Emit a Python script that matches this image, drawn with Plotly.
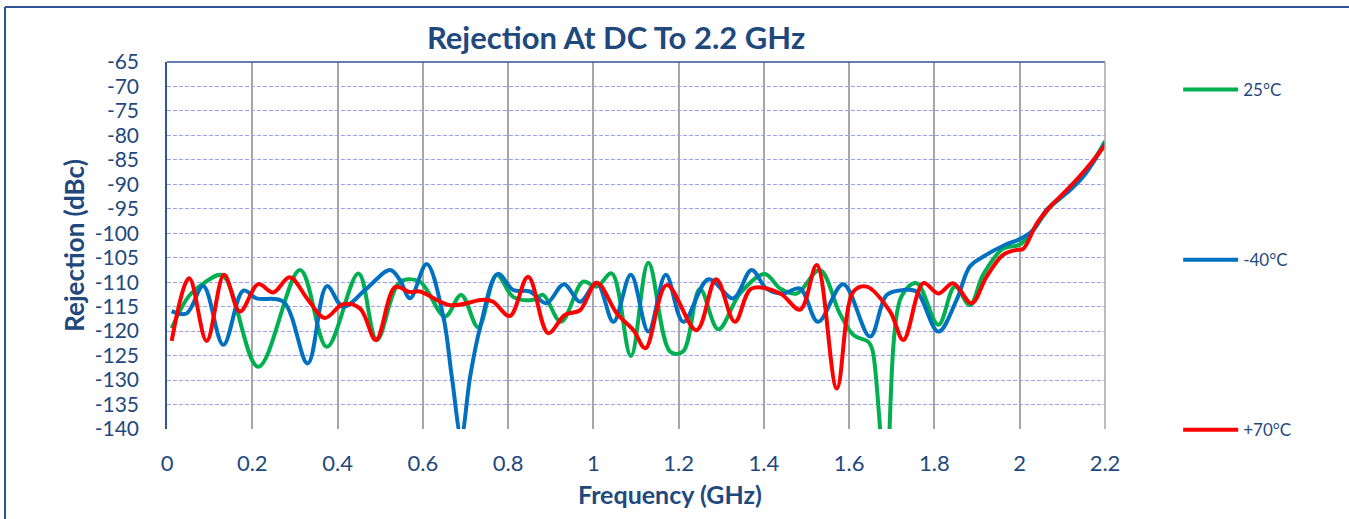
import plotly.graph_objects as go

# ---- data ----
freq_25 = [0.011, 0.05, 0.085, 0.13, 0.214, 0.312, 0.375, 0.449, 0.492, 0.546, 0.593, 0.652, 0.69, 0.73,
           0.773, 0.812, 0.859, 0.882, 0.924, 0.976, 1.008, 1.043, 1.088, 1.129, 1.18, 1.21, 1.25, 1.293,
           1.344, 1.402, 1.438, 1.477, 1.531, 1.578, 1.61, 1.645, 1.655, 1.686, 1.722, 1.758, 1.809, 1.848,
           1.883, 1.914, 1.96, 2.0, 2.03, 2.07, 2.11, 2.15, 2.2]
rej_25 = [-119.4, -113.0, -110.3, -108.6, -127.3, -107.5, -123.2, -108.2, -121.8, -110.0, -109.9, -117.0, -112.6, -119.2,
          -108.5, -113.0, -113.6, -112.6, -118.1, -109.9, -110.9, -108.2, -125.1, -106.0, -124.2, -124.2, -111.4, -119.6,
          -112.3, -108.3, -111.3, -112.3, -107.5, -116.4, -120.8, -122.2, -124.0, -150.0, -113.0, -110.2, -118.7, -110.9,
          -114.7, -108.5, -103.2, -102.3, -99.5, -94.8, -91.6, -88.2, -81.2]

freq_m40 = [0.011, 0.046, 0.085, 0.132, 0.179, 0.21, 0.273, 0.33, 0.375, 0.413, 0.468, 0.523, 0.546, 0.57,
            0.609, 0.648, 0.668, 0.69, 0.711, 0.734, 0.776, 0.812, 0.851, 0.89, 0.931, 0.969, 1.008, 1.047,
            1.088, 1.129, 1.17, 1.211, 1.27, 1.328, 1.371, 1.406, 1.445, 1.485, 1.527, 1.586, 1.649, 1.688,
            1.727, 1.758, 1.809, 1.852, 1.883, 1.914, 1.965, 2.0, 2.032, 2.063, 2.11, 2.149, 2.2]
rej_m40 = [-115.9, -116.4, -110.8, -122.8, -111.7, -113.3, -114.0, -126.6, -110.8, -115.0, -111.3, -107.5, -109.5, -113.3,
           -106.3, -117.0, -129.3, -141.5, -129.3, -119.4, -108.3, -111.6, -111.9, -114.3, -110.4, -114.0, -110.1, -118.1,
           -108.5, -120.1, -108.5, -118.1, -109.4, -113.3, -107.5, -111.3, -112.3, -111.3, -118.1, -110.4, -121.1, -112.6,
           -111.6, -111.9, -120.1, -113.6, -106.8, -104.8, -102.4, -101.2, -99.3, -95.2, -91.8, -88.4, -81.6]

freq_70 = [0.011, 0.052, 0.093, 0.134, 0.171, 0.214, 0.249, 0.288, 0.33, 0.37, 0.413, 0.453, 0.49, 0.535,
           0.57, 0.593, 0.664, 0.742, 0.765, 0.804, 0.847, 0.894, 0.933, 0.969, 1.008, 1.055, 1.094, 1.122,
           1.172, 1.242, 1.288, 1.332, 1.371, 1.438, 1.485, 1.524, 1.571, 1.61, 1.641, 1.696, 1.727, 1.774,
           1.809, 1.844, 1.887, 1.922, 1.961, 1.993, 2.008, 2.04, 2.071, 2.11, 2.157, 2.2]
rej_70 = [-122.0, -109.2, -122.0, -108.5, -116.0, -110.4, -112.1, -109.0, -113.5, -117.3, -114.5, -115.4, -121.8, -111.0,
          -112.0, -111.9, -114.7, -113.6, -114.0, -116.9, -108.9, -120.4, -116.7, -115.7, -110.1, -116.4, -119.8, -123.5,
          -110.6, -119.8, -109.4, -118.1, -111.3, -112.3, -115.6, -106.5, -131.7, -111.9, -110.9, -116.0, -121.8, -110.2,
          -112.3, -110.2, -114.3, -108.9, -104.4, -103.4, -103.2, -98.0, -94.6, -91.2, -86.7, -82.0]

series_names = ["25°C", "-40°C", "+70°C"]
series_colors = ["#00B050", "#0070C0", "#FF0000"]

y_ticks = list(range(-65, -141, -5))
y_tick_labels = [str(v) for v in y_ticks]
x_ticks = [0, 0.2, 0.4, 0.6, 0.8, 1.0, 1.2, 1.4, 1.6, 1.8, 2.0, 2.2]
x_tick_labels = ["0", "0.2", "0.4", "0.6", "0.8", "1", "1.2", "1.4", "1.6", "1.8", "2", "2.2"]

TXT = "#1F497D"
FONT = "Lato"

fig = go.Figure()
for i, (fx, fy) in enumerate([(freq_25, rej_25), (freq_m40, rej_m40), (freq_70, rej_70)]):
    fig.add_trace(go.Scatter(
        x=fx, y=fy, mode="lines", name=series_names[i], legendgroup=series_names[i],
        line=dict(color=series_colors[i], width=4, shape="spline", smoothing=1.0),
    ))

fig.update_layout(
    width=1349, height=519,
    margin=dict(l=167, r=244, t=62, b=90),
    paper_bgcolor="white", plot_bgcolor="white",
    font=dict(family=FONT, color=TXT),
    title=dict(text="<b>Rejection At DC To 2.2 GHz</b>", x=616/1349, xanchor="center",
               xref="container", y=1-38/519, yanchor="middle", yref="container",
               font=dict(size=31, color=TXT, family=FONT)),
    legend=dict(x=1.078, xanchor="left", y=(429-72)/367, yanchor="top",
                font=dict(size=17, color=TXT, family=FONT), maxheight=500,
                tracegroupgap=145, bgcolor="rgba(0,0,0,0)", itemwidth=55),
    showlegend=True,
)

fig.update_xaxes(
    range=[0, 2.2], tickmode="array", tickvals=x_ticks, ticktext=x_tick_labels,
    showgrid=True, gridcolor="#A6A6A6", gridwidth=1.5,
    zeroline=False, showline=False,
    tickfont=dict(size=22, color=TXT, family=FONT),
    ticks="", ticklabelstandoff=19,
)
fig.update_yaxes(
    range=[-140, -65], tickmode="array", tickvals=y_ticks, ticktext=y_tick_labels,
    showgrid=True, gridcolor="#A0A0F0", gridwidth=1, griddash="4px,2px",
    zeroline=False, showline=True, linecolor="#2F5597", linewidth=1.5,
    tickfont=dict(size=21, color=TXT, family=FONT),
    ticks="", ticklabelstandoff=22,
    title=dict(text="<b>Rejection (dBc)</b>", font=dict(size=26, color=TXT, family=FONT), standoff=3),
)

# x axis title positioned as in the reference
fig.add_annotation(text="<b>Frequency (GHz)</b>", xref="paper", yref="paper",
                   x=(670-167)/938, y=(429-494)/367, xanchor="center", yanchor="middle",
                   showarrow=False, font=dict(size=25, color=TXT, family=FONT))

# plot-area top border and right border
fig.add_shape(type="line", xref="paper", yref="paper", x0=0, x1=1, y0=1, y1=1,
              line=dict(color="#2F5597", width=1.5))
fig.add_shape(type="line", xref="paper", yref="paper", x0=1, x1=1, y0=0, y1=1,
              line=dict(color="#A6A6A6", width=1.5))
# outer chart frame (left and top)
fx0 = (5-167)/938
fy0 = (429-7)/367
fig.add_shape(type="line", xref="paper", yref="paper", x0=fx0, x1=fx0, y0=fy0, y1=-0.4,
              line=dict(color="#2F5597", width=2))
fig.add_shape(type="line", xref="paper", yref="paper", x0=fx0, x1=1.3, y0=fy0, y1=fy0,
              line=dict(color="#2F5597", width=2))

fig.write_html("out.html", config={"displayModeBar": False},
               post_script="document.body.style.margin='0';")
